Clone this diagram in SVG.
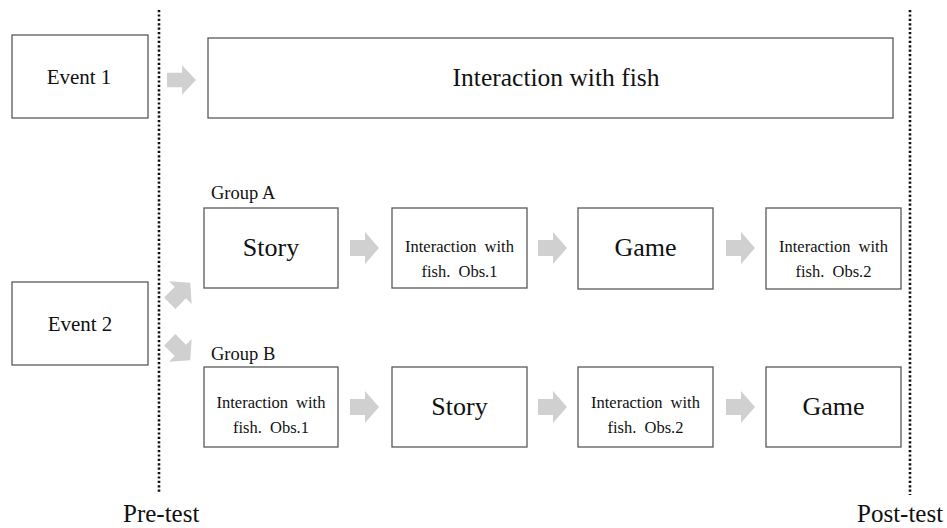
<svg xmlns="http://www.w3.org/2000/svg" width="947" height="528" viewBox="0 0 947 528" font-family="'Liberation Serif', 'DejaVu Serif', serif">
<style>
.box{fill:#fff;stroke:#595959;stroke-width:1.3}
text{font-family:'Liberation Serif','DejaVu Serif',serif;fill:#111}
.t{text-anchor:middle}
.big{font-size:25px}
.mid{font-size:21px}
.sm{font-size:16.5px;word-spacing:4px}
.grp{font-size:18.5px}
.arr{fill:#d0d0d0}
.dot{stroke:#111;stroke-width:2.6;stroke-dasharray:2.2 2.2;fill:none}
</style>
<defs>
<path id="ar" d="M-14.5,-8 H0.5 V-16 L14.5,0 L0.5,16 V8 H-14.5 Z"/>
</defs>
<rect width="947" height="528" fill="#fff"/>
<g id="dividers">
<line class="dot" x1="159" y1="10" x2="159" y2="492"/>
<line class="dot" x1="910" y1="10" x2="910" y2="495"/>
</g>
<g id="event1"><rect class="box" x="12" y="35" width="136" height="83"/><text class="t mid" x="79" y="84">Event 1</text></g>
<g id="fish-all"><rect class="box" x="208" y="38" width="685" height="80"/><text class="t big" x="556" y="86" style="font-size:25.5px">Interaction with fish</text></g>
<g id="event2"><rect class="box" x="12" y="282" width="136" height="83"/><text class="t mid" x="80" y="331">Event 2</text></g>
<text class="grp" x="211" y="199">Group A</text>
<text class="grp" x="211" y="360">Group B</text>
<g id="a1"><rect class="box" x="204" y="208" width="134" height="80"/><text class="t big" x="271" y="256" style="font-size:26px">Story</text></g>
<g id="a2"><rect class="box" x="392" y="208" width="135" height="80"/><text class="t sm" x="459.5" y="252">Interaction with</text><text class="t sm" x="459.5" y="277">fish. Obs.1</text></g>
<g id="a3"><rect class="box" x="578" y="208" width="135" height="81"/><text class="t big" x="645.5" y="256" style="font-size:26px">Game</text></g>
<g id="a4"><rect class="box" x="766" y="208" width="135" height="81"/><text class="t sm" x="833.5" y="252">Interaction with</text><text class="t sm" x="833.5" y="277">fish. Obs.2</text></g>
<g id="b1"><rect class="box" x="204" y="367" width="134" height="80"/><text class="t sm" x="271" y="408">Interaction with</text><text class="t sm" x="271" y="433">fish. Obs.1</text></g>
<g id="b2"><rect class="box" x="392" y="367" width="135" height="80"/><text class="t big" x="459.5" y="415" style="font-size:26px">Story</text></g>
<g id="b3"><rect class="box" x="578" y="367" width="135" height="80"/><text class="t sm" x="645.5" y="408">Interaction with</text><text class="t sm" x="645.5" y="433">fish. Obs.2</text></g>
<g id="b4"><rect class="box" x="766" y="367" width="135" height="80"/><text class="t big" x="833.5" y="415" style="font-size:26px">Game</text></g>
<g id="connectors" class="arr">
<use href="#ar" transform="translate(181.5,80) scale(1,0.92)"/>
<use href="#ar" transform="translate(180,293) rotate(-45)"/>
<use href="#ar" transform="translate(180,350) rotate(45)"/>
<use href="#ar" transform="translate(364.5,248)"/>
<use href="#ar" transform="translate(552.5,248)"/>
<use href="#ar" transform="translate(740.5,248)"/>
<use href="#ar" transform="translate(364.5,407)"/>
<use href="#ar" transform="translate(552.5,407)"/>
<use href="#ar" transform="translate(740.5,407)"/>
</g>
<text class="big" x="123" y="522">Pre-test</text>
<text class="big" x="857" y="522">Post-test</text>
</svg>
